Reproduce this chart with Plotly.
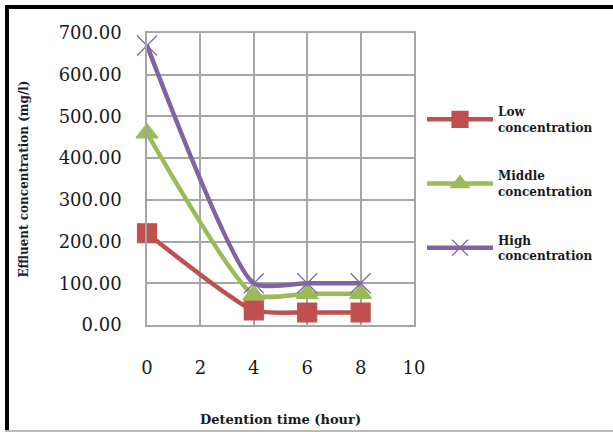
import plotly.graph_objects as go

time_h = [0, 4, 6, 8]
low = [220, 35, 30, 30]
middle = [460, 72, 75, 75]
high = [670, 100, 100, 100]
series_names = ["Low<br>concentration", "Middle<br>concentration", "High<br>concentration"]
x_ticks = [0, 2, 4, 6, 8, 10]
y_ticks = [0, 100, 200, 300, 400, 500, 600, 700]

colors = ["#C0504D", "#9BBB59", "#8064A2"]
symbols = ["square", "triangle-up", "x-thin-open"]
sizes = [19, 19, 20]

W, H = 613, 432
L, R, T, B = 147, 199, 33, 107

fig = go.Figure()
for i, vals in enumerate([low, middle, high]):
    fig.add_trace(go.Scatter(
        x=time_h, y=vals, name=series_names[i], mode="lines+markers",
        line=dict(color=colors[i], width=4.5, shape="spline", smoothing=0.55),
        marker=dict(symbol=symbols[i], size=sizes[i], color=colors[i],
                    line=dict(color=colors[i], width=1.2)),
        legendgroup=str(i), cliponaxis=False,
    ))

serif = "DejaVu Serif, serif"
fig.update_layout(
    width=W, height=H,
    margin=dict(l=L, r=R, t=T, b=B, autoexpand=False),
    paper_bgcolor="white", plot_bgcolor="white",
    font=dict(family=serif, color="#1a1a1a"),
    showlegend=True,
    legend=dict(x=1.03, y=0.78, xanchor="left", yanchor="top",
                font=dict(family=serif, size=12, color="#1a1a1a", weight="bold"),
                traceorder="grouped", tracegroupgap=30, itemwidth=66,
                bgcolor="rgba(0,0,0,0)"),
    xaxis=dict(range=[0, 10], tickvals=x_ticks, showgrid=True, gridcolor="#A6A6A6",
               gridwidth=1.5, showline=True, linecolor="#A6A6A6", linewidth=1.5, mirror=True,
               zeroline=False, ticks="", ticklabelstandoff=26, automargin=False,
               tickfont=dict(size=18, family=serif, color="#1a1a1a"),
               title=dict(text="<b>Detention time (hour)</b>", standoff=38,
                          font=dict(size=13, family=serif, color="#1a1a1a"))),
    yaxis=dict(range=[0, 700], tickvals=y_ticks, tickformat=".2f", showgrid=True,
               gridcolor="#A6A6A6", gridwidth=1.5, showline=True, linecolor="#A6A6A6",
               linewidth=1.5, mirror=True, zeroline=False, ticks="", ticklabelstandoff=20,
               automargin=False,
               tickfont=dict(size=18, family=serif, color="#1a1a1a"),
               title=dict(text="<b>Effluent concentration (mg/l)</b>", standoff=27,
                          font=dict(size=12, family=serif, color="#1a1a2a"))),
)

pw, ph = W - L - R, H - T - B
def px_x(p):
    return (p - L) / pw
def px_y(p):
    return (H - B - p) / ph

fig.add_shape(type="line", xref="paper", yref="paper", x0=px_x(7), x1=px_x(7),
              y0=px_y(5), y1=px_y(H), line=dict(color="black", width=4))
fig.add_shape(type="line", xref="paper", yref="paper", x0=px_x(5), x1=px_x(W + 2),
              y0=px_y(7), y1=px_y(7), line=dict(color="black", width=4))
fig.add_shape(type="line", xref="paper", yref="paper", x0=px_x(5), x1=px_x(W + 2),
              y0=px_y(431), y1=px_y(431), line=dict(color="#BBBBBB", width=2))

fig.write_html("out.html")
